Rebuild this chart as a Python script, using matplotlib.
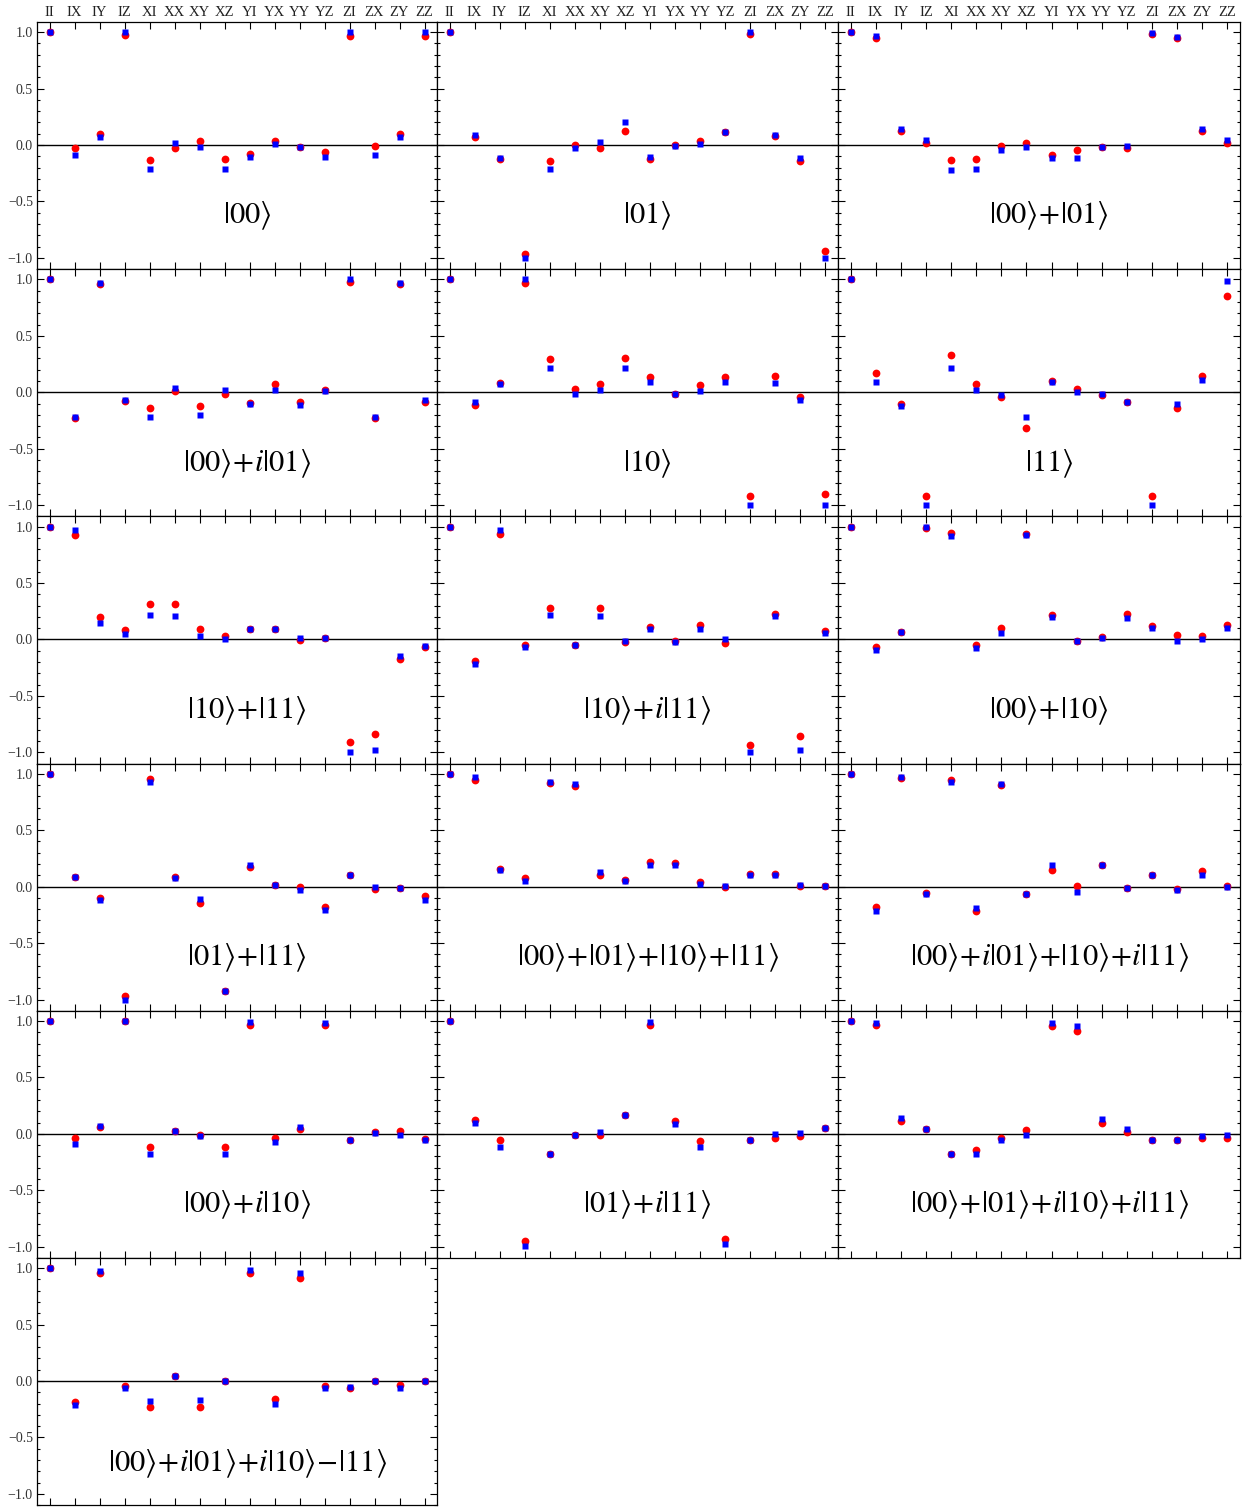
import numpy as np
import matplotlib
matplotlib.use("Agg")
import matplotlib.pyplot as plt
from matplotlib.ticker import MultipleLocator

plt.rcParams['font.family'] = ['Liberation Serif', 'DejaVu Serif']
plt.rcParams['mathtext.fontset'] = 'stix'

paulis = ["II", "IX", "IY", "IZ", "XI", "XX", "XY", "XZ",
          "YI", "YX", "YY", "YZ", "ZI", "ZX", "ZY", "ZZ"]

states = [
    r"$|00\rangle$",
    r"$|01\rangle$",
    r"$|00\rangle\!+\!|01\rangle$",
    r"$|00\rangle\!+\!i|01\rangle$",
    r"$|10\rangle$",
    r"$|11\rangle$",
    r"$|10\rangle\!+\!|11\rangle$",
    r"$|10\rangle\!+\!i|11\rangle$",
    r"$|00\rangle\!+\!|10\rangle$",
    r"$|01\rangle\!+\!|11\rangle$",
    r"$|00\rangle\!+\!|01\rangle\!+\!|10\rangle\!+\!|11\rangle$",
    r"$|00\rangle\!+\!i|01\rangle\!+\!|10\rangle\!+\!i|11\rangle$",
    r"$|00\rangle\!+\!i|10\rangle$",
    r"$|01\rangle\!+\!i|11\rangle$",
    r"$|00\rangle\!+\!|01\rangle\!+\!i|10\rangle\!+\!i|11\rangle$",
    r"$|00\rangle\!+\!i|01\rangle\!+\!i|10\rangle\!-\!|11\rangle$",
]

# vertical position of each state label (data units)
label_y = [-0.63] * 15 + [-0.73]

# red circles, one row per state, columns follow paulis
red_vals = [
    [1.0, -0.024, 0.095, 0.976, -0.136, -0.024, 0.036, -0.127, -0.08, 0.036, -0.015, -0.062, 0.968, -0.01, 0.095, 0.968],
    [1.0, 0.071, -0.127, -0.963, -0.139, 0.0, -0.024, 0.121, -0.127, 0.0, 0.033, 0.113, 0.988, 0.077, -0.139, -0.94],
    [0.997, 0.947, 0.121, 0.018, -0.133, -0.121, -0.012, 0.018, -0.089, -0.044, -0.015, -0.03, 0.985, 0.947, 0.121, 0.018],
    [1.0, -0.228, 0.961, -0.077, -0.139, 0.009, -0.119, -0.015, -0.098, 0.074, -0.083, 0.021, 0.98, -0.228, 0.961, -0.086],
    [1.0, -0.116, 0.083, 0.972, 0.296, 0.033, 0.074, 0.305, 0.136, -0.015, 0.062, 0.136, -0.919, 0.148, -0.039, -0.9],
    [1.0, 0.166, -0.107, -0.921, 0.326, 0.071, -0.041, -0.32, 0.1, 0.033, -0.024, -0.086, -0.921, -0.139, 0.145, 0.855],
    [1.0, 0.926, 0.201, 0.086, 0.317, 0.317, 0.095, 0.033, 0.095, 0.095, -0.006, 0.012, -0.911, -0.837, -0.175, -0.068],
    [1.0, -0.19, 0.938, -0.05, 0.278, -0.045, 0.278, -0.025, 0.109, -0.012, 0.124, -0.036, -0.935, 0.228, -0.852, 0.072],
    [1.0, -0.065, 0.062, 0.985, 0.947, -0.045, 0.104, 0.932, 0.217, -0.018, 0.018, 0.226, 0.116, 0.039, 0.033, 0.128],
    [1.0, 0.089, -0.101, -0.967, 0.95, 0.089, -0.145, -0.929, 0.175, 0.018, 0.0, -0.181, 0.101, -0.018, -0.015, -0.086],
    [1.0, 0.947, 0.154, 0.074, 0.914, 0.893, 0.101, 0.062, 0.217, 0.205, 0.042, -0.006, 0.11, 0.11, 0.003, 0.006],
    [1.0, -0.178, 0.961, -0.053, 0.941, -0.217, 0.899, -0.065, 0.145, 0.003, 0.19, -0.012, 0.104, -0.024, 0.139, 0.003],
    [1.0, -0.036, 0.062, 1.0, -0.116, 0.027, -0.009, -0.116, 0.964, -0.036, 0.044, 0.964, -0.053, 0.018, 0.027, -0.044],
    [1.0, 0.124, -0.053, -0.95, -0.178, -0.009, -0.009, 0.169, 0.964, 0.116, -0.062, -0.933, -0.053, -0.036, -0.018, 0.053],
    [1.0, 0.964, 0.116, 0.044, -0.178, -0.142, -0.036, 0.036, 0.956, 0.911, 0.098, 0.018, -0.053, -0.053, -0.036, -0.036],
    [1.0, -0.187, 0.955, -0.045, -0.232, 0.045, -0.232, 0.0, 0.955, -0.161, 0.911, -0.045, -0.062, 0.0, -0.036, 0.0],
]

# blue squares
blue_vals = [
    [1.0, -0.09, 0.074, 1.0, -0.216, 0.02, -0.015, -0.216, -0.11, 0.01, -0.015, -0.11, 1.0, -0.086, 0.074, 1.0],
    [1.0, 0.089, -0.118, -1.0, -0.216, -0.027, 0.03, 0.207, -0.11, -0.012, 0.009, 0.113, 0.997, 0.089, -0.118, -1.0],
    [0.997, 0.964, 0.142, 0.047, -0.219, -0.21, -0.041, -0.018, -0.116, -0.113, -0.015, -0.006, 0.99, 0.96, 0.142, 0.047],
    [1.0, -0.216, 0.97, -0.065, -0.216, 0.041, -0.204, 0.018, -0.107, 0.018, -0.113, 0.009, 1.0, -0.216, 0.97, -0.065],
    [1.0, -0.086, 0.071, 1.0, 0.216, -0.015, 0.021, 0.216, 0.092, -0.015, 0.009, 0.092, -0.997, 0.083, -0.068, -0.997],
    [1.0, 0.089, -0.121, -1.0, 0.216, 0.018, -0.024, -0.216, 0.089, 0.006, -0.015, -0.086, -1.0, -0.1, 0.11, 0.988],
    [1.0, 0.967, 0.145, 0.047, 0.219, 0.207, 0.027, 0.006, 0.095, 0.095, 0.009, 0.012, -1.0, -0.976, -0.151, -0.056],
    [1.0, -0.22, 0.97, -0.065, 0.214, -0.05, 0.205, -0.018, 0.09, -0.027, 0.09, 0.0, -1.0, 0.205, -0.982, 0.058],
    [1.0, -0.092, 0.068, 0.994, 0.92, -0.077, 0.056, 0.923, 0.196, -0.018, 0.015, 0.193, 0.104, -0.018, 0.006, 0.101],
    [1.0, 0.086, -0.122, -1.0, 0.923, 0.077, -0.113, -0.929, 0.193, 0.018, -0.03, -0.208, 0.101, 0.0, -0.015, -0.116],
    [1.0, 0.97, 0.145, 0.05, 0.926, 0.905, 0.131, 0.05, 0.193, 0.196, 0.027, 0.006, 0.107, 0.107, 0.015, 0.006],
    [1.0, -0.217, 0.97, -0.068, 0.926, -0.193, 0.908, -0.065, 0.196, -0.045, 0.196, -0.015, 0.104, -0.027, 0.104, 0.0],
    [1.0, -0.089, 0.071, 1.0, -0.178, 0.027, -0.018, -0.178, 0.99, -0.071, 0.062, 0.98, -0.053, 0.009, -0.009, -0.053],
    [1.0, 0.098, -0.116, -0.995, -0.178, -0.009, 0.018, 0.169, 0.99, 0.089, -0.116, -0.978, -0.053, 0.0, 0.009, 0.053],
    [1.0, 0.98, 0.142, 0.044, -0.178, -0.178, -0.053, -0.009, 0.98, 0.956, 0.133, 0.044, -0.053, -0.053, -0.018, -0.009],
    [1.0, -0.214, 0.973, -0.062, -0.178, 0.045, -0.17, 0.0, 0.982, -0.205, 0.955, -0.062, -0.054, 0.0, -0.062, 0.0],
]

W, H = 1245, 1508
fig = plt.figure(figsize=(W / 100, H / 100), dpi=100)

col_edges = [37, 437, 838, 1240]
top = 22
row_h = 247.2
x = np.arange(1, len(paulis) + 1)

for k, label in enumerate(states):
    r, c = divmod(k, 3)
    x0, x1 = col_edges[c], col_edges[c + 1]
    y0 = top + r * row_h
    ax = fig.add_axes([x0 / W, 1 - (y0 + row_h) / H, (x1 - x0) / W, row_h / H])

    ax.axhline(0, color='black', lw=1.0, zorder=1)
    ax.plot(x, red_vals[k], 'o', color='red', ms=5.6, mec='none', zorder=3)
    ax.plot(x, blue_vals[k], 's', color='blue', ms=4.4, mec='none', zorder=4)

    ax.set_xlim(0.5, 16.5)
    ax.set_xticks(x)
    ax.yaxis.set_major_locator(MultipleLocator(0.5))
    ax.yaxis.set_minor_locator(MultipleLocator(0.1))
    ax.tick_params(which='both', direction='in', top=True, right=True,
                   width=0.8, labelsize=10, labelcolor='#333333', pad=3)
    ax.tick_params(which='major', length=5)
    ax.tick_params(which='minor', length=2.5)

    if r == 0:
        ax.xaxis.set_tick_params(labeltop=True, labelbottom=False, pad=2)
        ax.set_xticklabels(paulis, fontsize=10.5, color='#222222')
    else:
        ax.set_xticklabels([])
    if c == 0:
        ax.set_yticks([-1.0, -0.5, 0.0, 0.5, 1.0])
        ax.set_yticklabels([f"{v:.1f}".replace("-", "\u2212")
                            for v in ax.get_yticks()])
    else:
        ax.set_yticklabels([])
    ax.set_ylim(-1.1, 1.09)

    for s in ax.spines.values():
        s.set_linewidth(0.9)

    ax.text(8.9, label_y[k], label, ha='center', va='center', fontsize=22)

fig.savefig("out.png", dpi=100)
